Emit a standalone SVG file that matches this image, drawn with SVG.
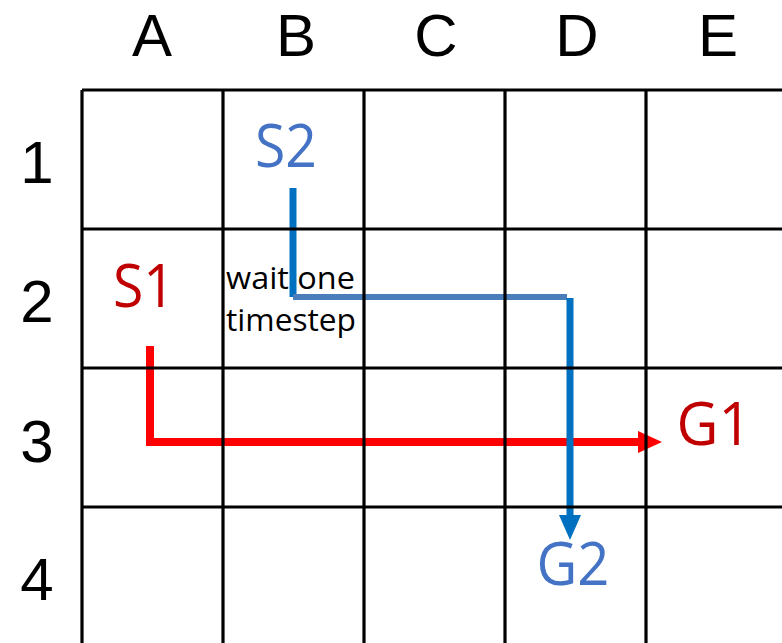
<svg xmlns="http://www.w3.org/2000/svg" width="782" height="643" viewBox="0 0 782 643">
  <style>
    .hdr { font-family: "Liberation Sans", "Open Sans", sans-serif; font-size: 60px; fill: #000; text-anchor: middle; }
    .lbl { font-family: "Open Sans", "Liberation Sans", sans-serif; font-size: 60px; text-anchor: middle; }
    .blue { fill: #4472c4; }
    .red { fill: #c00000; }
    .note { font-family: "Open Sans", "Liberation Sans", sans-serif; font-size: 31px; fill: #000; }
    .grid line { stroke: #000; stroke-width: 3.2; }
    .path { fill: none; stroke-linecap: butt; stroke-linejoin: miter; }
  </style>
  <defs>
    <marker id="arrowRed" viewBox="0 0 24 22" refX="0" refY="11" markerWidth="24" markerHeight="22" markerUnits="userSpaceOnUse" orient="auto">
      <path d="M0 0 L24 11 L0 22 Z" fill="#ff0000"/>
    </marker>
    <marker id="arrowBlue" viewBox="0 0 25 22" refX="0" refY="11" markerWidth="25" markerHeight="22" markerUnits="userSpaceOnUse" orient="auto">
      <path d="M0 0 L25 11 L0 22 Z" fill="#0070c0"/>
    </marker>
  </defs>
  <rect width="782" height="643" fill="#fff"/>

  <!-- agent paths -->
  <g id="connectors">
    <g id="path-agent1">
      <path class="path" d="M150 346 V442 H638" stroke="#ff0000" stroke-width="8" marker-end="url(#arrowRed)"/>
    </g>
    <g id="path-agent2">
      <path class="path" d="M293 188 V297" stroke="#0070c0" stroke-width="7"/>
      <path class="path" d="M293 297 H567" stroke="#4a7ebb" stroke-width="6"/>
      <path class="path" d="M570 298 V515" stroke="#0070c0" stroke-width="7" marker-end="url(#arrowBlue)"/>
    </g>
  </g>

  <!-- board grid -->
  <g id="grid" class="grid">
    <line x1="82" y1="90" x2="782" y2="90"/>
    <line x1="82" y1="229" x2="782" y2="229"/>
    <line x1="82" y1="368" x2="782" y2="368"/>
    <line x1="82" y1="507" x2="782" y2="507"/>
    <line x1="82" y1="90" x2="82" y2="643"/>
    <line x1="223" y1="90" x2="223" y2="643"/>
    <line x1="364" y1="90" x2="364" y2="643"/>
    <line x1="505" y1="90" x2="505" y2="643"/>
    <line x1="646" y1="90" x2="646" y2="643"/>
  </g>

  <!-- column and row headers -->
  <g id="col-headers">
    <text class="hdr" x="152" y="56">A</text>
    <text class="hdr" x="296" y="56">B</text>
    <text class="hdr" x="436" y="56">C</text>
    <text class="hdr" x="577" y="56">D</text>
    <text class="hdr" x="718" y="56">E</text>
  </g>
  <g id="row-headers">
    <text class="hdr" x="37" y="183">1</text>
    <text class="hdr" x="37" y="322">2</text>
    <text class="hdr" x="37" y="462">3</text>
    <text class="hdr" x="37" y="600">4</text>
  </g>

  <!-- start and goal markers -->
  <g id="S2"><text class="lbl blue" x="286" y="167" textLength="62" lengthAdjust="spacingAndGlyphs">S2</text></g>
  <g id="S1"><text class="lbl red" x="144" y="307" textLength="62" lengthAdjust="spacingAndGlyphs">S1</text></g>
  <g id="G1"><text class="lbl red" x="714" y="445" textLength="75" lengthAdjust="spacingAndGlyphs">G1</text></g>
  <g id="G2"><text class="lbl blue" x="573" y="585" textLength="73" lengthAdjust="spacingAndGlyphs">G2</text></g>

  <!-- wait annotation -->
  <g id="wait-note">
    <text class="note" x="226" y="289" textLength="129" lengthAdjust="spacingAndGlyphs">wait one</text>
    <text class="note" x="226" y="331" textLength="130" lengthAdjust="spacingAndGlyphs">timestep</text>
  </g>
</svg>
